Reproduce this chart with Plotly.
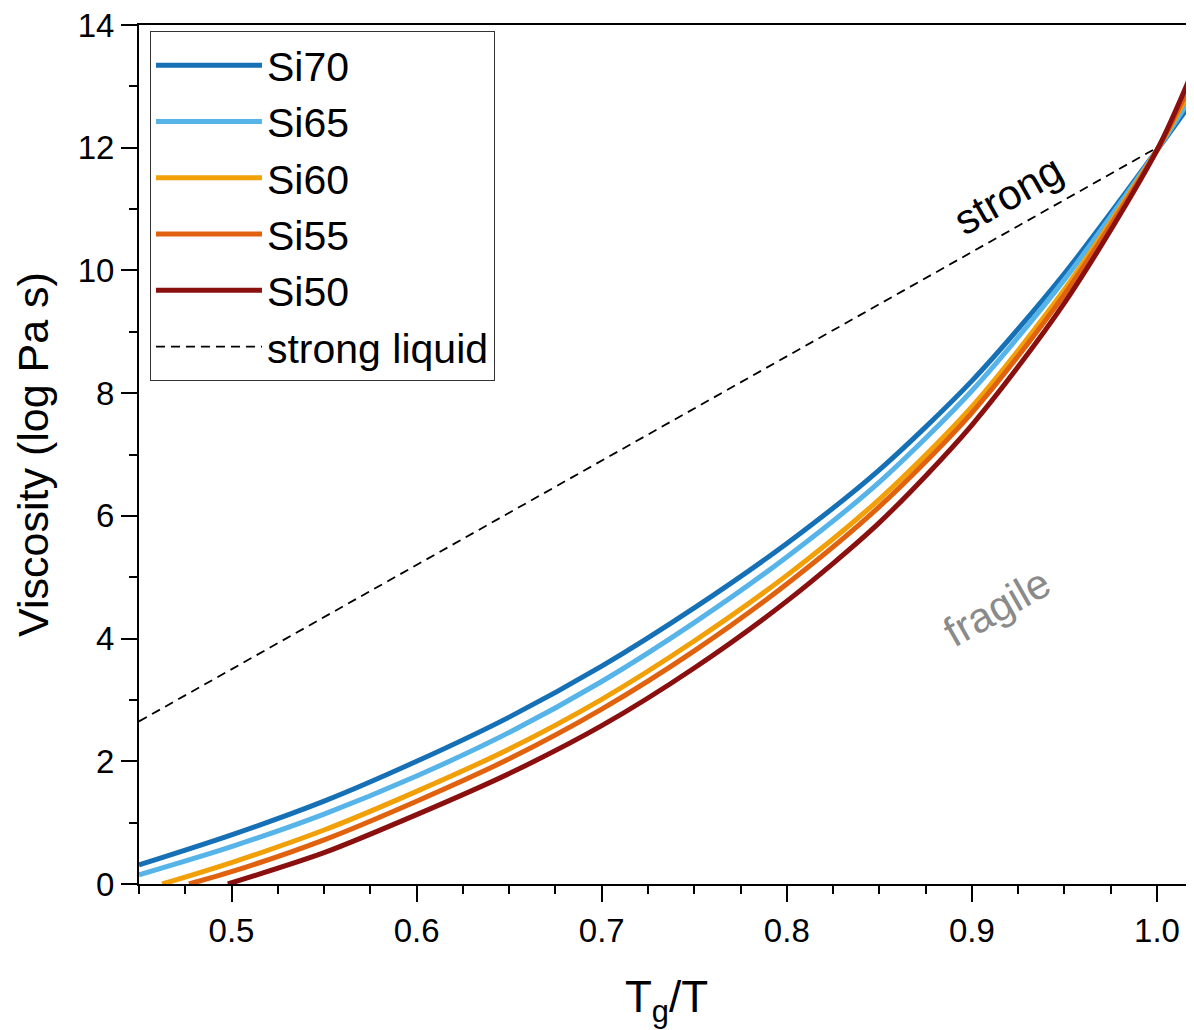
import plotly.graph_objects as go

# ---- data ----
names = ["Si70", "Si65", "Si60", "Si55", "Si50"]
colors = ["#1570B6", "#56B4E9", "#F2A007", "#E0620F", "#8A0F0F"]

si70_x = [0.45, 0.50, 0.55, 0.60, 0.65, 0.70, 0.75, 0.80, 0.85, 0.90, 0.95, 1.00, 1.02]
si70_y = [0.31, 0.80, 1.35, 2.00, 2.72, 3.55, 4.50, 5.55, 6.75, 8.20, 9.95, 11.96, 12.80]

si65_x = [0.45, 0.50, 0.55, 0.60, 0.65, 0.70, 0.75, 0.80, 0.85, 0.90, 0.95, 1.00, 1.02]
si65_y = [0.15, 0.61, 1.14, 1.76, 2.47, 3.30, 4.26, 5.33, 6.55, 8.04, 9.85, 11.96, 12.90]

si60_x = [0.4625, 0.50, 0.55, 0.60, 0.65, 0.70, 0.75, 0.80, 0.85, 0.90, 0.95, 1.00, 1.02]
si60_y = [0.00, 0.35, 0.88, 1.51, 2.20, 3.01, 3.96, 5.03, 6.27, 7.78, 9.69, 11.96, 13.05]

si55_x = [0.477, 0.50, 0.55, 0.60, 0.65, 0.70, 0.75, 0.80, 0.85, 0.90, 0.95, 1.00, 1.02]
si55_y = [0.00, 0.20, 0.72, 1.35, 2.04, 2.85, 3.80, 4.89, 6.15, 7.68, 9.61, 11.96, 13.15]

si50_x = [0.498, 0.55, 0.60, 0.65, 0.70, 0.75, 0.80, 0.85, 0.90, 0.95, 1.00, 1.02]
si50_y = [0.00, 0.51, 1.13, 1.80, 2.58, 3.52, 4.61, 5.89, 7.48, 9.47, 11.96, 13.30]

strong_x = [0.45, 1.00]
strong_y = [2.65, 12.0]

x_tickvals = [0.5, 0.6, 0.7, 0.8, 0.9, 1.0]
x_ticktext = ["0.5", "0.6", "0.7", "0.8", "0.9", "1.0"]
y_tickvals = [0, 2, 4, 6, 8, 10, 12, 14]

series_x = [si70_x, si65_x, si60_x, si55_x, si50_x]
series_y = [si70_y, si65_y, si60_y, si55_y, si50_y]

FONT = "Liberation Sans, Arial, Helvetica, sans-serif"

fig = go.Figure()
for n, c, xs, ys in zip(names, colors, series_x, series_y):
    fig.add_trace(go.Scatter(x=xs, y=ys, mode="lines", name=n,
                             line=dict(color=c, width=5, shape="spline", smoothing=0.8)))

fig.add_trace(go.Scatter(x=strong_x, y=strong_y, mode="lines", name="strong liquid",
                         line=dict(color="black", width=1.8, dash="9px,6px")))

fig.add_annotation(x=0.92, y=11.23, text="strong", showarrow=False, textangle=-29.5,
                   font=dict(family=FONT, size=42, color="black"))
fig.add_annotation(x=0.9134, y=4.5, text="fragile", showarrow=False, textangle=-29.5,
                   font=dict(family=FONT, size=42, color="#8a8a8a"))

# the page body has an 8px margin, so the figure is sized to fill the window exactly
fig.update_layout(
    width=1186, height=1022,
    margin=dict(l=131, r=0, t=17, b=146),
    paper_bgcolor="white", plot_bgcolor="white",
    font=dict(family=FONT, color="black"),
    showlegend=True,
    legend=dict(x=0.0104, y=0.993, xanchor="left", yanchor="top",
                bordercolor="#333333", borderwidth=1, bgcolor="white",
                font=dict(family=FONT, size=41, color="black"),
                itemwidth=106, tracegroupgap=0),
)

fig.update_xaxes(range=[0.45, 1.02], showgrid=False, zeroline=False,
                 showline=True, linecolor="black", linewidth=2, mirror=True,
                 ticks="outside", ticklen=16, tickwidth=2, tickcolor="black",
                 tickvals=x_tickvals, ticktext=x_ticktext, ticklabeloverflow="allow",
                 tickfont=dict(family=FONT, size=33),
                 minor=dict(ticks="outside", ticklen=8, tickwidth=2, tickcolor="black", dtick=0.025, tick0=0.45),
                 title=dict(text="T<sub>g</sub>/T", font=dict(family=FONT, size=44), standoff=34))

fig.update_yaxes(range=[0, 14], showgrid=False, zeroline=False,
                 showline=True, linecolor="black", linewidth=2, mirror=False,
                 ticks="outside", ticklen=16, tickwidth=2, tickcolor="black",
                 tickvals=y_tickvals, ticklabeloverflow="allow",
                 tickfont=dict(family=FONT, size=33),
                 minor=dict(ticks="outside", ticklen=8, tickwidth=2, tickcolor="black", dtick=1),
                 title=dict(text="Viscosity (log Pa s)", font=dict(family=FONT, size=43), standoff=16))

fig.write_html("out.html")
